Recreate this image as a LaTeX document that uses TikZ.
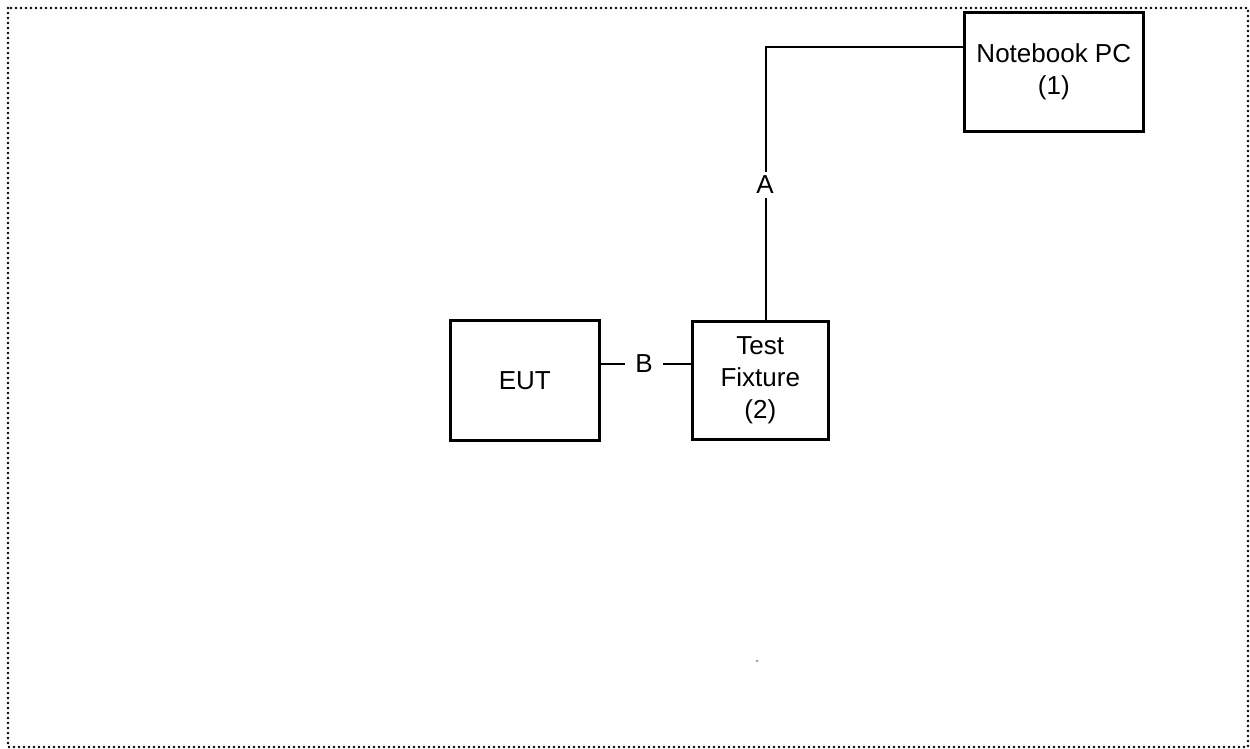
\documentclass[tikz,border=0pt]{standalone}
\usepackage{fontspec}
\setmainfont{Liberation Sans}
\begin{document}
\begin{tikzpicture}[x=1pt,y=-1pt,
  box/.style={draw,line width=2.6pt,inner sep=0pt,font=\fontsize{26}{32}\selectfont,align=center},
  conn/.style={line width=2pt},
  lbl/.style={font=\fontsize{26}{30}\selectfont,inner sep=4pt}]
\useasboundingbox (0,0) rectangle (1250,749);
\draw[line width=2.6pt,line cap=round,dash pattern=on 0pt off 5pt] (8,8) rectangle (1248,747);
\node[box,minimum width=179pt,minimum height=119pt,anchor=north west] (pc) at (963,11) {Notebook PC\\(1)};
\node[box,minimum width=149pt,minimum height=120pt,anchor=north west] (eut) at (449,319) {EUT};
\node[box,minimum width=136pt,minimum height=118pt,anchor=north west] (tf) at (691,320) {Test\\Fixture\\(2)};
\node[lbl] (a) at (765,185) {A};
\node[lbl] (b) at (644,364) {B};
\coordinate (bend) at (766,47);
\draw[conn] (pc.west |- bend) -- (bend) -- (a.north -| bend);
\draw[conn] (a.south -| bend) -- (tf.north -| bend);
\draw[conn] (eut.east |- b) -- ([xshift=-6pt]b.west);
\draw[conn] ([xshift=6pt]b.east) -- (tf.west |- b);
\fill[gray!70] (757,661) circle (1.5pt);
\end{tikzpicture}
\end{document}
